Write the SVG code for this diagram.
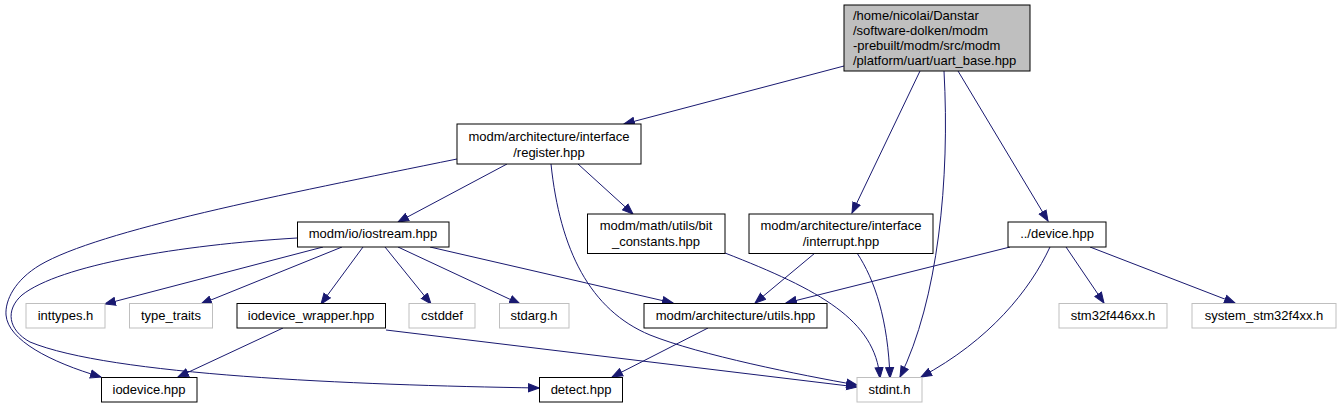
<svg xmlns="http://www.w3.org/2000/svg" width="1342" height="409" viewBox="0 0 1342 409">
<style>
.n rect{fill:#ffffff;stroke:#000000;stroke-width:1}
.g rect{fill:#ffffff;stroke:#bfbfbf;stroke-width:1}
.top rect{fill:#bfbfbf;stroke:#000000;stroke-width:1}
text{font-family:"Liberation Sans",Arial,sans-serif;font-size:13px;fill:#000000}
.c{text-anchor:middle}
#edges path{fill:none;stroke:#191970;stroke-width:1;marker-end:url(#arr)}
</style>
<defs>
<marker id="arr" markerWidth="12" markerHeight="10" refX="11" refY="5" orient="auto" markerUnits="userSpaceOnUse">
<path d="M0.5,1 L11,5 L0.5,9 z" fill="#191970" stroke="#191970" stroke-width="1"/>
</marker>
</defs>
<rect width="1342" height="409" fill="#ffffff"/>
<g id="edges">
<path d="M844,66 L624,124"/>
<path d="M920,71 L852,213"/>
<path d="M944,71 C950,180 938,300 900,377"/>
<path d="M958,71 L1048,221"/>
<path d="M507,164 L398,222"/>
<path d="M578,164 L633,214"/>
<path d="M551,164 C560,250 590,310 650,335 C700,355 800,375 857,385"/>
<path d="M457,159 C280,195 100,230 40,265 C15,280 5,300 6,315 C8,340 50,362 101,377"/>
<path d="M297,238 C180,245 60,265 22,295 C5,310 8,330 30,342 C110,375 350,385 539,388"/>
<path d="M323,247 L105,304"/>
<path d="M342,247 L201,304"/>
<path d="M363,247 L321,304"/>
<path d="M385,247 L431,304"/>
<path d="M398,247 L520,304"/>
<path d="M430,247 L673,303"/>
<path d="M725,253 C820,290 875,320 880,378"/>
<path d="M815,253 L755,303"/>
<path d="M857,253 C875,280 888,320 890,378"/>
<path d="M1010,247 L786,303"/>
<path d="M1050,247 C1030,290 990,340 921,377"/>
<path d="M1066,247 L1104,303"/>
<path d="M1090,247 L1235,303"/>
<path d="M283,328 L178,377"/>
<path d="M386,330 L857,387"/>
<path d="M708,328 L612,377"/>
</g>
<g id="n_top" class="top">
<rect x="844" y="5" width="186" height="66"/>
<text x="853" y="20">/home/nicolai/Danstar</text>
<text x="853" y="35">/software-dolken/modm</text>
<text x="853" y="50">-prebuilt/modm/src/modm</text>
<text x="853" y="65">/platform/uart/uart_base.hpp</text>
</g>
<g id="n_register" class="n">
<rect x="457" y="124" width="184" height="40"/>
<text class="c" x="549" y="141">modm/architecture/interface</text>
<text class="c" x="549" y="157">/register.hpp</text>
</g>
<g id="n_iostream" class="n">
<rect x="297.5" y="222" width="151.5" height="25"/>
<text class="c" x="373" y="238">modm/io/iostream.hpp</text>
</g>
<g id="n_bit_constants" class="n">
<rect x="587.5" y="214" width="137.5" height="39.5"/>
<text class="c" x="656" y="230">modm/math/utils/bit</text>
<text class="c" x="656" y="246">_constants.hpp</text>
</g>
<g id="n_interrupt" class="n">
<rect x="749" y="214" width="184" height="39.5"/>
<text class="c" x="841" y="230">modm/architecture/interface</text>
<text class="c" x="841" y="246">/interrupt.hpp</text>
</g>
<g id="n_device" class="n">
<rect x="1008" y="222" width="98" height="25"/>
<text class="c" x="1057" y="238">../device.hpp</text>
</g>
<g id="n_inttypes" class="g">
<rect x="26" y="303.5" width="79" height="24.5"/>
<text class="c" x="65.5" y="319.5">inttypes.h</text>
</g>
<g id="n_type_traits" class="g">
<rect x="129.5" y="303.5" width="83" height="24.5"/>
<text class="c" x="171" y="319.5">type_traits</text>
</g>
<g id="n_iodevice_wrapper" class="n">
<rect x="237" y="303.5" width="148.5" height="24.5"/>
<text class="c" x="311" y="319.5">iodevice_wrapper.hpp</text>
</g>
<g id="n_cstddef" class="g">
<rect x="409" y="303.5" width="66" height="24.5"/>
<text class="c" x="442" y="319.5">cstddef</text>
</g>
<g id="n_stdarg" class="g">
<rect x="499.5" y="303.5" width="69.5" height="24.5"/>
<text class="c" x="534" y="319.5">stdarg.h</text>
</g>
<g id="n_utils" class="n">
<rect x="644" y="303.5" width="183" height="24.5"/>
<text class="c" x="735.5" y="319.5">modm/architecture/utils.hpp</text>
</g>
<g id="n_stm32f446xx" class="g">
<rect x="1059" y="303.5" width="108" height="24.5"/>
<text class="c" x="1113" y="319.5">stm32f446xx.h</text>
</g>
<g id="n_system_stm32f4xx" class="g">
<rect x="1192" y="303.5" width="144" height="24.5"/>
<text class="c" x="1264" y="319.5">system_stm32f4xx.h</text>
</g>
<g id="n_iodevice" class="n">
<rect x="101.5" y="377.5" width="95.5" height="24.5"/>
<text class="c" x="149" y="393.5">iodevice.hpp</text>
</g>
<g id="n_detect" class="n">
<rect x="539.5" y="377.5" width="83" height="24.5"/>
<text class="c" x="581" y="393.5">detect.hpp</text>
</g>
<g id="n_stdint" class="g">
<rect x="857" y="377.5" width="65" height="24.5"/>
<text class="c" x="889.5" y="393.5">stdint.h</text>
</g>
</svg>
